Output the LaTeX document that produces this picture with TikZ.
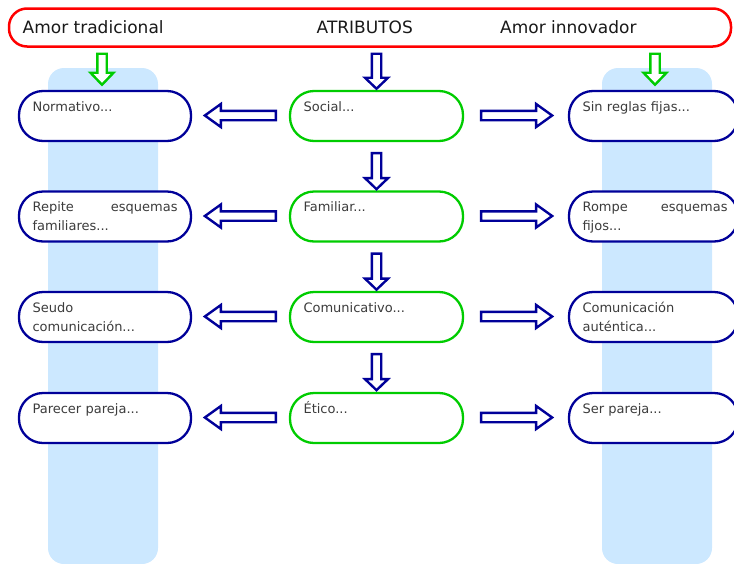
\documentclass[tikz,border=0pt]{standalone}
\usepackage{fontspec}
\setmainfont{DejaVu Sans}
\usetikzlibrary{calc}
\definecolor{navyb}{RGB}{0,0,153}
\definecolor{greenb}{RGB}{0,204,0}
\definecolor{redb}{RGB}{255,0,0}
\definecolor{colblue}{RGB}{204,232,255}
\definecolor{txt}{RGB}{60,60,60}
\tikzset{
 sidebox/.style={draw=navyb,line width=2.3pt,fill=white,rounded corners=24pt,minimum width=172pt,minimum height=50pt,inner sep=0pt},
 midbox/.style={sidebox,draw=greenb},
 boxtext/.style={anchor=base west,inner sep=0pt,text width=145pt,align=left,font=\fontsize{13}{19}\selectfont,text=txt},
 titletext/.style={anchor=base west,inner sep=0pt,font=\fontsize{17}{20}\selectfont,text=black!90},
 column/.style={fill=colblue,rounded corners=16pt,minimum width=110pt,minimum height=496pt,inner sep=0pt},
 pics/barrow/.style 2 args={code={\draw[pic actions] (0,-4.7) -- (#1-#2,-4.7) -- (#1-#2,-11.5) -- (#1,0) -- (#1-#2,11.5) -- (#1-#2,4.7) -- (0,4.7) -- cycle;}},
 navyarrow/.style={draw=navyb,line width=2.4pt,fill=white},
 greenarrow/.style={draw=greenb,line width=2.4pt,fill=white},
}
\begin{document}
\begin{tikzpicture}[x=1pt,y=-1pt]
\useasboundingbox (0,0) rectangle (734,563);
% columns
\node[column] (colL) at (103,316) {};
\node[column] (colR) at (657,316) {};
% title bar
\node[draw=redb,line width=2.5pt,rounded corners=18pt,minimum width=722pt,minimum height=38pt,fill=white,inner sep=0pt] (top) at (370,27.5) {};
\node[titletext] (tl) at (22.5,33.3) {Amor tradicional};
\node[titletext] (tc) at (316.5,33.3) {ATRIBUTOS};
\node[titletext] (tr) at (500,33.3) {Amor innovador};
% boxes
\foreach \i/\y in {1/116,2/216.5,3/317,4/418}{
  \node[sidebox] (L\i) at (105,\y) {};
  \node[midbox,minimum width=173pt] (C\i) at (376.5,\y) {};
  \node[sidebox,minimum width=169pt] (R\i) at (653.5,\y) {};
}
% texts
\node[boxtext] (tL1) at ($(L1.north west)+(14.5,21.5)$) {Normativo...};
\node[boxtext] (tL2) at ($(L2.north west)+(14.5,21.5)$) {Repite\hfill esquemas\\familiares...};
\node[boxtext] (tL3) at ($(L3.north west)+(14.5,21.5)$) {Seudo\\comunicación...};
\node[boxtext] (tL4) at ($(L4.north west)+(14.5,21.5)$) {Parecer pareja...};
\node[boxtext] (tC1) at ($(C1.north west)+(14.5,21.5)$) {Social...};
\node[boxtext] (tC2) at ($(C2.north west)+(14.5,21.5)$) {Familiar...};
\node[boxtext] (tC3) at ($(C3.north west)+(14.5,21.5)$) {Comunicativo...};
\node[boxtext] (tC4) at ($(C4.north west)+(14.5,21.5)$) {Ético...};
\node[boxtext] (tR1) at ($(R1.north west)+(14.5,21.5)$) {Sin reglas fijas...};
\node[boxtext] (tR2) at ($(R2.north west)+(14.5,21.5)$) {Rompe\hfill esquemas\\fijos...};
\node[boxtext] (tR3) at ($(R3.north west)+(14.5,21.5)$) {Comunicación\\auténtica...};
\node[boxtext] (tR4) at ($(R4.north west)+(14.5,21.5)$) {Ser pareja...};
% green arrows
\pic[greenarrow,rotate=-90] at ($(colL.north |- top.south)+(-1,6)$) {barrow={31}{12}};
\pic[greenarrow,rotate=-90] at ($(colR.north |- top.south)+(-2,6)$) {barrow={31}{12}};
% vertical navy arrows
\pic[navyarrow,rotate=-90] at ($(C1.north |- top.south)+(0,6)$) {barrow={35}{11}};
\pic[navyarrow,rotate=-90] at ($(C1.south)+(0,11)$) {barrow={36}{11}};
\pic[navyarrow,rotate=-90] at ($(C2.south)+(0,11)$) {barrow={36}{11}};
\pic[navyarrow,rotate=-90] at ($(C3.south)+(0,11)$) {barrow={36}{11}};
% horizontal arrows
\foreach \i in {1,2,3,4}{
  \pic[navyarrow,rotate=180] at ($(C\i.west)+(-13,-0.5)$) {barrow={71}{16}};
  \pic[navyarrow] at ($(C\i.east)+(17,-0.5)$) {barrow={71}{16}};
}
\end{tikzpicture}
\end{document}
